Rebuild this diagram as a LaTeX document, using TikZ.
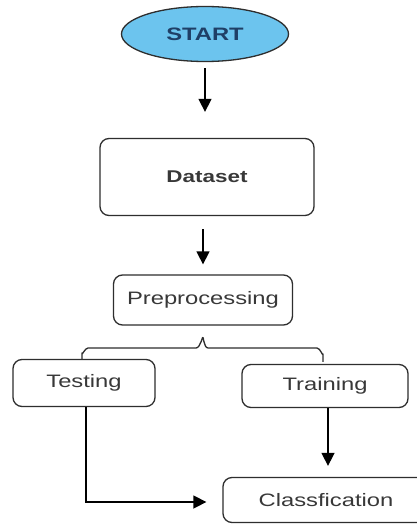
\documentclass[tikz,border=0pt]{standalone}
\usepackage{fontspec}
\setmainfont{Liberation Sans}
\usetikzlibrary{arrows.meta,shapes.geometric}
\definecolor{edge}{HTML}{2E2E2E}
\definecolor{ink}{HTML}{383838}
\definecolor{startfill}{HTML}{6CC4EE}
\definecolor{startink}{HTML}{1F3F66}
% labels are set in a horizontally widened face
\newcommand{\widetext}[1]{\scalebox{1.32}[1]{#1}}
\tikzset{
  box/.style={draw=edge, line width=1.3pt, rounded corners=9pt, fill=white,
    inner sep=0pt, text=ink, font=\fontsize{18}{20}\selectfont},
  arr/.style={draw=black, line width=1.5pt, -{Triangle[width=13pt,length=13pt]}},
  link/.style={draw=edge, line width=1.3pt},
}
\begin{document}
\begin{tikzpicture}[x=1pt,y=-1pt]
\useasboundingbox (0,0) rectangle (417,524);
\clip (0,0) rectangle (417,524);
\fill[white] (0,0) rectangle (417,524);

% flow nodes
\node[ellipse, draw=edge, line width=1.3pt, fill=startfill, text=startink,
  minimum width=167pt, minimum height=55pt, inner sep=0pt,
  font=\fontsize{18}{20}\selectfont\bfseries] (start) at (205,34) {\widetext{START}};
\node[box, minimum width=214pt, minimum height=77pt,
  font=\fontsize{17}{19}\selectfont\bfseries] (data) at (207,177) {\widetext{Dataset}};
\node[box, minimum width=179pt, minimum height=50pt] (pre) at (203,300) {\widetext{Preprocessing}};
\node[box, minimum width=142pt, minimum height=47pt] (test) at (84,383) {\widetext{Testing}};
\node[box, minimum width=166pt, minimum height=43pt] (train) at (325,386) {\widetext{Training}};
\node[box, minimum width=206pt, minimum height=45pt] (cls) at (326,500) {\widetext{Classfication}};

% arrows
\draw[arr, shorten <=6pt, shorten >=26pt] (start.south) -- (start.south |- data.north);
\draw[arr, shorten <=13pt, shorten >=10pt] (data.south -| pre.north) -- (pre.north);
\draw[arr, shorten >=11pt] (train.south -| 328,0) -- (328,0 |- cls.north);
\coordinate (bend) at (test.south -| 86,0);
\draw[arr, shorten >=16pt] (bend) |- (cls.west |- 0,502);

% split brace below Preprocessing
\coordinate (peak) at ([yshift=-13pt]pre.south);
\coordinate (lft) at (82,0 |- test.north);
\coordinate (rgt) at (323,0 |- train.north);
\draw[link, line join=round]
  (lft) -- (82,353) to[out=-90,in=180] (88,348) -- (196,348)
  to[out=0,in=90] (peak |- 0,338)
  to[out=90,in=180] (208,348) -- (317,348)
  to[out=0,in=-90] (323,354) -- ([yshift=2pt]rgt);
\end{tikzpicture}
\end{document}
